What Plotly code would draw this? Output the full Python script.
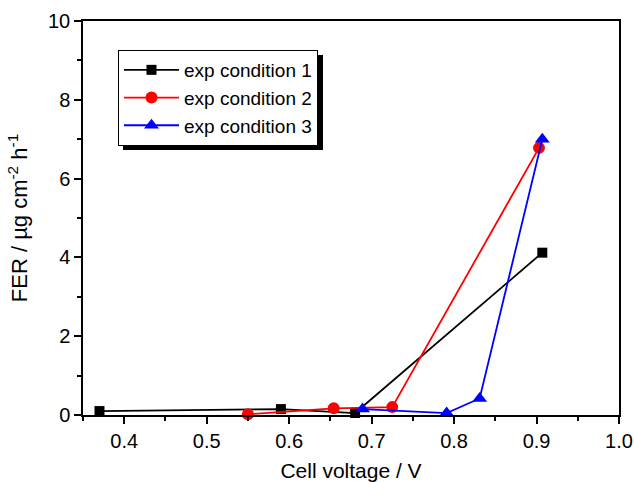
import plotly.graph_objects as go

# Cell voltage (V) and FER (µg cm^-2 h^-1) for three experimental conditions
v1 = [0.370, 0.590, 0.680, 0.907]
fer1 = [0.10, 0.15, 0.05, 4.12]

v2 = [0.550, 0.654, 0.725, 0.903]
fer2 = [0.02, 0.17, 0.20, 6.78]

v3 = [0.689, 0.791, 0.831, 0.907]
fer3 = [0.15, 0.05, 0.42, 7.00]

names = ["exp condition 1", "exp condition 2", "exp condition 3"]
colors = ["black", "red", "blue"]
symbols = ["square", "circle", "triangle-up"]
sizes = [10, 12, 13]

FONT = "Arial"
TICK_FS = 20
TITLE_FS = 21
LEGEND_FS = 19

fig = go.Figure()
for x, y, n, c, s, sz in zip([v1, v2, v3], [fer1, fer2, fer3], names, colors, symbols, sizes):
    fig.add_trace(go.Scatter(
        x=x, y=y, name=n, mode="lines+markers",
        line=dict(color=c, width=1.8),
        marker=dict(color=c, symbol=s, size=sz, line=dict(width=0)),
        cliponaxis=False,
    ))

axis_common = dict(
    showline=True, linecolor="black", linewidth=1.5, mirror=True,
    ticks="outside", ticklen=7, tickwidth=1.5, tickcolor="black",
    showgrid=False, zeroline=False, automargin=False,
    tickfont=dict(family=FONT, size=TICK_FS, color="black"),
)

fig.update_xaxes(
    range=[0.35, 1.0], dtick=0.1, tick0=0.4, tickformat=".1f",
    minor=dict(ticks="outside", ticklen=4, tickwidth=1.5, dtick=0.05, tick0=0.35, tickcolor="black"),
    title=dict(text="Cell voltage / V", font=dict(family=FONT, size=TITLE_FS, color="black"), standoff=28),
    **axis_common,
)
fig.update_yaxes(
    range=[0, 10], dtick=2,
    minor=dict(ticks="outside", ticklen=4, tickwidth=1.5, dtick=1, tickcolor="black"),
    title=dict(text="FER / µg cm<sup>-2</sup> h<sup>-1</sup>", font=dict(family=FONT, size=22, color="black"), standoff=14),
    **axis_common,
)

# drop shadow behind the legend box (box is about 200 x 95 px)
lx0, ly1 = 0.0653, 0.9264
lw, lh = 200 / 536, 95 / 394
dx, dy = 5 / 536, 5 / 394
fig.add_shape(type="rect", xref="paper", yref="paper",
              x0=lx0 + dx, x1=lx0 + lw + dx, y0=ly1 - lh - dy, y1=ly1 - dy,
              fillcolor="black", line=dict(width=0), layer="above")

fig.update_layout(
    width=634, height=482,
    margin=dict(l=83, r=15, t=21, b=67),
    plot_bgcolor="white", paper_bgcolor="white",
    font=dict(family=FONT, size=TICK_FS, color="black"),
    showlegend=True,
    legend=dict(
        x=lx0, y=ly1, xanchor="left", yanchor="top",
        bgcolor="white", bordercolor="black", borderwidth=1,
        font=dict(family=FONT, size=LEGEND_FS, color="black"),
        itemwidth=55, tracegroupgap=0,
    ),
)

fig.write_html("out.html")
